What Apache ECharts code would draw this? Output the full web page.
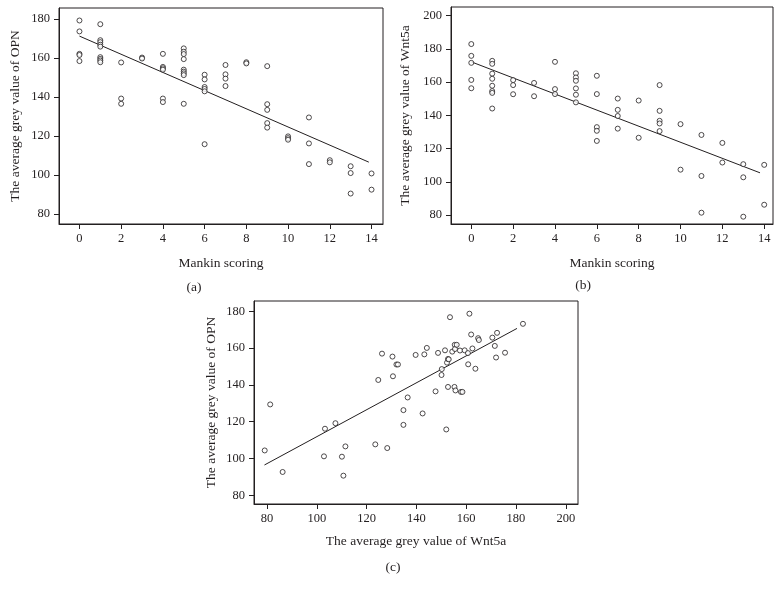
<!DOCTYPE html>
<html>
<head>
<meta charset="utf-8">
<script src="https://cdn.jsdelivr.net/npm/echarts@6/dist/echarts.min.js"></script>
<style>
html,body{margin:0;padding:0;background:#fff;}
#chart{width:783px;height:592px;}
</style>
</head>
<body>
<div id="chart"></div>
<script>
// Panel (a): Mankin scoring vs OPN grey value
const scoreA = [0,0,0,0,0, 1,1,1,1,1,1,1,1,1, 2,2,2, 3,3, 4,4,4,4,4,4, 5,5,5,5,5,5,5,5,5, 6,6,6,6,6,6, 7,7,7,7, 8,8, 9,9,9,9,9, 10,10,10, 11,11,11, 12,12, 13,13,13, 14,14];
const opnA = [179.2,173.6,162.1,161.5,158.4, 177.3,169.1,168.1,166.8,165.8,160.4,159.5,158.7,157.8, 157.7,139.2,136.5, 160.2,159.7, 162.1,155.4,154.7,154.0,139.2,137.4, 164.9,163.2,162.0,159.4,154.0,153.0,152.1,151.2,136.5, 151.4,149.0,145.1,144.1,142.9,115.8, 156.4,151.6,149.4,145.6, 157.8,157.2, 155.8,136.3,133.4,126.6,124.3, 119.8,118.9,118.1, 129.5,116.2,105.6, 107.6,106.5, 104.5,101.0,90.5, 100.8,92.5];
const fitA = [[0, 171.2], [13.87, 106.6]];

// Panel (b): Mankin scoring vs Wnt5a grey value
const scoreB = [0,0,0,0,0, 1,1,1,1,1,1,1,1, 2,2,2, 3,3, 4,4,4, 5,5,5,5,5,5, 6,6,6,6,6, 7,7,7,7, 8,8, 9,9,9,9,9, 10,10, 11,11,11, 12,12, 13,13,13, 14,14];
const wnt5aB = [182.9,175.8,171.6,161.3,156.3, 172.8,171.0,165.1,162.0,157.8,154.6,153.5,144.1, 161.2,158.2,152.7, 159.5,151.5, 172.2,155.8,152.8, 165.3,162.8,160.8,156.2,152.4,147.8, 163.8,152.8,132.9,130.7,124.6, 150.1,143.3,139.6,132.0, 148.9,126.5, 158.2,142.7,136.7,135.1,130.5, 134.7,107.3, 128.2,103.5,81.4, 123.4,111.6, 110.6,102.7,79.0, 110.2,86.2];
const fitB = [[0, 172.2], [13.8, 105.4]];

// Panel (c): Wnt5a grey value vs OPN grey value
const wnt5aC = [79.1,81.3,86.3,103.3,102.9,107.5,110.1,110.7,111.5,123.5,124.7,126.2,128.3,130.4,130.6,132.0,132.6,134.8,134.8,136.5,139.7,142.5,143.2,144.2,147.7,148.7,150.2,150.1,151.5,152.3,152.7,153.0,152.7,152.0,153.5,154.4,155.3,155.7,155.4,155.5,156.2,157.5,157.9,158.5,159.4,160.7,160.8,161.3,162.0,162.5,163.7,164.8,165.1,170.5,171.5,172.0,172.4,175.6,182.8];
const opnC = [104.4,129.4,92.7,116.2,101.2,119.2,101.0,90.7,106.6,107.7,142.7,157.0,105.7,155.4,144.7,151.1,151.1,126.3,118.3,133.2,156.3,124.5,156.6,160.1,136.5,157.4,148.6,145.4,158.8,152.1,154.1,153.9,138.9,115.8,176.8,158.1,138.9,137.0,161.8,159.5,161.8,158.7,136.2,136.2,158.8,157.3,151.2,178.7,167.4,159.8,148.8,165.4,164.4,165.7,161.2,154.9,168.3,157.5,173.2];
const fitC = [[79.0, 96.5], [180.4, 170.7]];

// Tick labels
const ticksMankin = [0,2,4,6,8,10,12,14];
const ticksOpn = [80,100,120,140,160,180];
const ticksWntB = [80,100,120,140,160,180,200];
const ticksWntC = [80,100,120,140,160,180,200];

const ink = '#231f20';
const serif = '"Liberation Serif", "DejaVu Serif", serif';

function zip(a, b) { return a.map((v, i) => [v, b[i]]); }

function axis(gridIndex, min, max, ticks, name, gap, isY) {
  return {
    type: 'value', gridIndex, min, max,
    name, nameLocation: 'middle', nameGap: gap,
    nameTextStyle: { color: ink, fontFamily: serif, fontSize: 13.5 },
    axisLine: { show: true, onZero: false, lineStyle: { color: ink, width: 1 } },
    axisTick: { show: true, length: 5, customValues: ticks, lineStyle: { color: ink, width: 1 } },
    axisLabel: { customValues: ticks, color: ink, fontFamily: serif, fontSize: 12.5, margin: isY ? 9 : 8 },
    splitLine: { show: false }
  };
}

function scatter(i, data) {
  return {
    type: 'scatter', xAxisIndex: i, yAxisIndex: i, data, symbol: 'circle', symbolSize: 5,
    itemStyle: { color: '#fff', borderColor: ink, borderWidth: 1 },
    emphasis: { disabled: true }, silent: true
  };
}
function fit(i, data) {
  return {
    type: 'line', xAxisIndex: i, yAxisIndex: i, data, showSymbol: false, symbol: 'none',
    lineStyle: { color: ink, width: 1 }, silent: true, z: 1
  };
}

const chart = echarts.init(document.getElementById('chart'), null, { renderer: 'canvas' });
const gridStyle = { show: true, borderColor: ink, borderWidth: 1, backgroundColor: 'transparent', containLabel: false };
chart.setOption({
  animation: false,
  backgroundColor: '#fff',
  grid: [
    Object.assign({ left: 59, top: 8, width: 324, height: 216 }, gridStyle),
    Object.assign({ left: 451, top: 7, width: 322, height: 217 }, gridStyle),
    Object.assign({ left: 254, top: 301, width: 324, height: 203 }, gridStyle)
  ],
  xAxis: [
    axis(0, -0.98, 14.55, ticksMankin, 'Mankin scoring', 32, false),
    axis(1, -0.97, 14.42, ticksMankin, 'Mankin scoring', 32, false),
    axis(2, 74.8, 204.9, ticksWntC, 'The average grey value of Wnt5a', 30, false)
  ],
  yAxis: [
    axis(0, 74.9, 185.6, ticksOpn, 'The average grey value of OPN', 37, true),
    axis(1, 74.6, 205.2, ticksWntB, 'The average grey value of Wnt5a', 39, true),
    axis(2, 75.3, 185.6, ticksOpn, 'The average grey value of OPN', 36, true)
  ],
  series: [
    fit(0, fitA), scatter(0, zip(scoreA, opnA)),
    fit(1, fitB), scatter(1, zip(scoreB, wnt5aB)),
    fit(2, fitC), scatter(2, zip(wnt5aC, opnC))
  ],
  graphic: [
    { type: 'text', x: 194, y: 287, style: { text: '(a)', fill: ink, font: '13.5px ' + serif, textAlign: 'center', textVerticalAlign: 'middle' } },
    { type: 'text', x: 583, y: 285, style: { text: '(b)', fill: ink, font: '13.5px ' + serif, textAlign: 'center', textVerticalAlign: 'middle' } },
    { type: 'text', x: 393, y: 567, style: { text: '(c)', fill: ink, font: '13.5px ' + serif, textAlign: 'center', textVerticalAlign: 'middle' } }
  ]
});
</script>
</body>
</html>
